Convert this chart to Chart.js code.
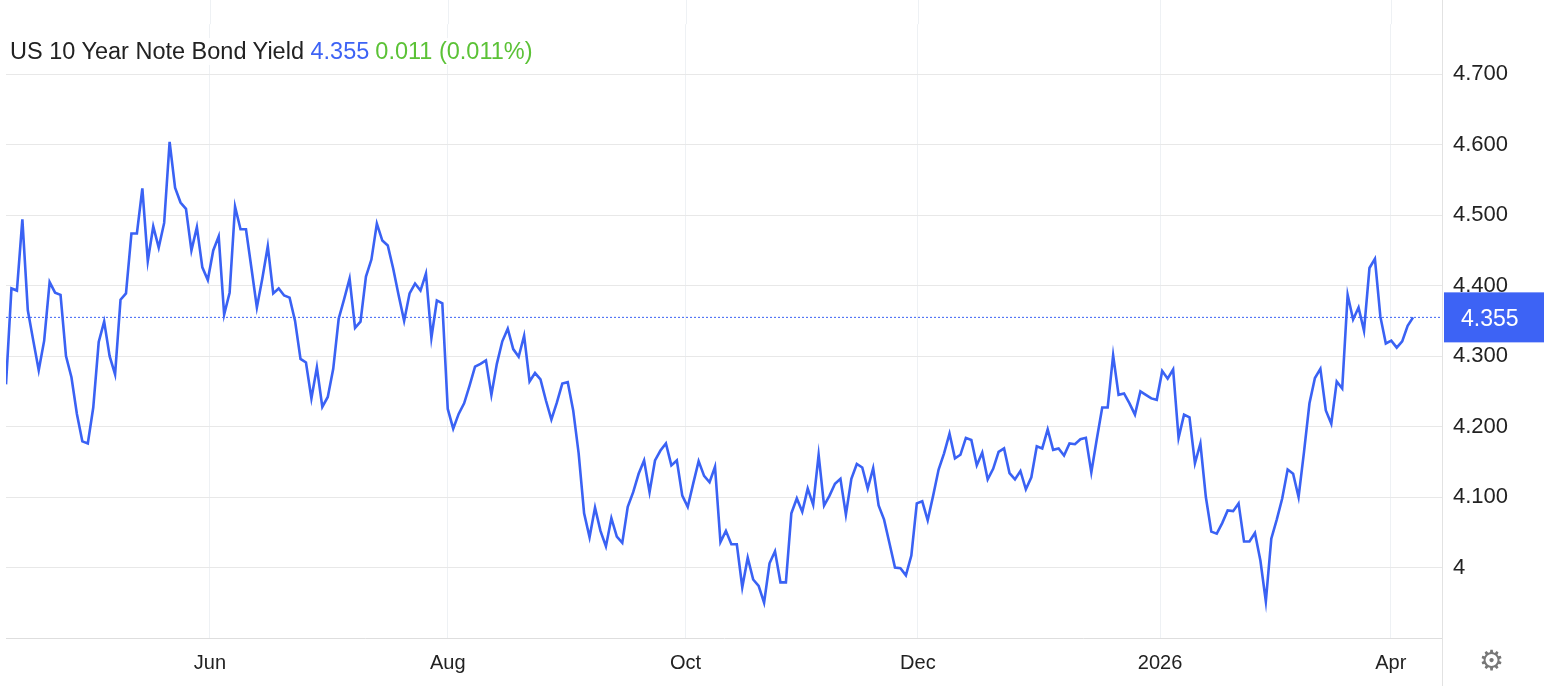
<!DOCTYPE html>
<html lang="en">
<head>
<meta charset="UTF-8" />
<title>US 10 Year Note Bond Yield</title>
<script src="https://cdn.jsdelivr.net/npm/chart.js@4.4.0/dist/chart.umd.min.js"></script>
<style>
  html, body { margin: 0; padding: 0; background: #fff; }
  body { width: 1544px; height: 686px; position: relative; overflow: hidden;
         font-family: Helvetica, Arial, "Liberation Sans", sans-serif; }
  #wrap { position: absolute; left: 0; top: 0; width: 1544px; height: 686px; }
  .title { position: absolute; left: 10px; top: 38px; font-size: 23.5px; color: #222;
           background: rgba(255,255,255,.85); padding-right: 4px; }
  .title .last { color: #3d63f5; }
  .title .chg { color: #5bc236; margin-left: 6px; }
  .gear { position: absolute; left: 1479px; top: 644px; font-size: 28px; color: #777; }
</style>
</head>
<body>
<div id="wrap"><canvas id="chart"></canvas></div>
<div class="title">US 10 Year Note Bond Yield <span class="last">4.355</span><span class="chg">0.011 (0.011%)</span></div>
<div class="gear">⚙</div>

<script>
// daily yields, roughly Apr 10 2025 .. Apr 6 2026
var yields = [
  4.26, 4.396, 4.393, 4.494, 4.365, 4.322, 4.28, 4.322, 4.405, 4.39,
  4.387, 4.30, 4.27, 4.218, 4.179, 4.176, 4.227, 4.32, 4.349, 4.30,
  4.274, 4.38, 4.389, 4.474, 4.474, 4.538, 4.435, 4.484, 4.454, 4.489,
  4.604, 4.539, 4.518, 4.509, 4.45, 4.483, 4.426, 4.408, 4.45, 4.47,
  4.359, 4.39, 4.512, 4.48, 4.48,
  4.425, 4.369, 4.41, 4.456, 4.389, 4.396, 4.386, 4.383, 4.35, 4.296,
  4.291, 4.24, 4.284, 4.228, 4.242, 4.282, 4.353, 4.381, 4.41, 4.34,
  4.349, 4.413, 4.437, 4.488, 4.464, 4.457, 4.424, 4.386, 4.35, 4.389,
  4.403, 4.393, 4.417, 4.326, 4.379, 4.375, 4.225, 4.197, 4.218, 4.233,
  4.258, 4.285, 4.289, 4.294, 4.245,
  4.289, 4.321, 4.339, 4.31, 4.299, 4.329, 4.264, 4.276, 4.267, 4.237,
  4.21, 4.234, 4.261, 4.263, 4.223, 4.162, 4.077, 4.043, 4.085, 4.052,
  4.03, 4.07, 4.044, 4.035, 4.086, 4.107, 4.133, 4.152, 4.107, 4.152,
  4.166, 4.176, 4.145, 4.152, 4.102, 4.086, 4.119, 4.151, 4.13, 4.121,
  4.143, 4.036, 4.052,
  4.033, 4.033, 3.972, 4.014, 3.983, 3.974, 3.95, 4.006, 4.023, 3.979,
  3.979, 4.077, 4.098, 4.079, 4.112, 4.089, 4.16, 4.088, 4.102, 4.119,
  4.126, 4.075, 4.126, 4.147, 4.142, 4.112, 4.141, 4.088, 4.068, 4.034,
  4.0, 3.999, 3.989, 4.017, 4.091, 4.094, 4.067, 4.102, 4.139, 4.162,
  4.19, 4.155, 4.16,
  4.184, 4.181, 4.145, 4.163, 4.125, 4.14, 4.164, 4.169, 4.134, 4.125,
  4.137, 4.111, 4.128, 4.172, 4.169, 4.196, 4.167, 4.169, 4.159, 4.176,
  4.175, 4.182, 4.184, 4.135, 4.182, 4.227, 4.227, 4.301, 4.245, 4.247,
  4.233, 4.217, 4.25, 4.245, 4.24, 4.238, 4.279, 4.268, 4.281, 4.184,
  4.217, 4.213, 4.148, 4.176,
  4.1, 4.051, 4.048, 4.063, 4.081, 4.08, 4.091, 4.037, 4.037, 4.049,
  4.01, 3.952, 4.041, 4.068, 4.098, 4.139, 4.133, 4.1, 4.164, 4.233,
  4.269, 4.282, 4.223, 4.204, 4.264, 4.254, 4.387, 4.352, 4.369, 4.336,
  4.425, 4.438, 4.356, 4.318, 4.322, 4.312, 4.321, 4.343, 4.355
];

var lastValue = 4.355;
var monthLabels = ["Jun", "Aug", "Oct", "Dec", "2026", "Apr"];
var monthStartIdx = [37.4, 81.0, 124.6, 167.2, 211.6, 253.9];
var yTicks = [4.0, 4.1, 4.2, 4.3, 4.4, 4.5, 4.6, 4.7];

var lineColor = "rgb(58, 98, 244)";
var gridColor = "#e8e8e8";
var fontFam = "Helvetica, Arial, 'Liberation Sans', sans-serif";

var points = yields.map(function (v, i) { return { x: i, y: v }; });

// extra drawing: dotted last-value line, value box, right border, grid to top
var lastLinePlugin = {
  id: "lastLine",
  beforeDatasetsDraw: function (chart) {
    var c = chart.ctx, a = chart.chartArea;
    var y = chart.scales.y.getPixelForValue(lastValue);
    c.save();
    // month gridlines continue up to the top edge
    c.strokeStyle = "#eef1f4"; c.lineWidth = 1;
    monthStartIdx.forEach(function (v) {
      var x = Math.round(chart.scales.x.getPixelForValue(v)) + 0.5;
      c.beginPath(); c.moveTo(x, 0); c.lineTo(x, a.top); c.stroke();
    });
    c.strokeStyle = lineColor;
    c.setLineDash([2, 2]);
    c.beginPath(); c.moveTo(a.left, y); c.lineTo(a.right, y); c.stroke();
    c.restore();
  },
  afterDraw: function (chart) {
    var c = chart.ctx, a = chart.chartArea;
    var y = chart.scales.y.getPixelForValue(lastValue);
    c.save();
    c.strokeStyle = "#e2e2e2"; c.lineWidth = 1;
    c.beginPath(); c.moveTo(a.right + 0.5, 0); c.lineTo(a.right + 0.5, 686); c.stroke();
    c.fillStyle = "rgb(61, 99, 245)";
    c.fillRect(a.right + 2, y - 25, 100, 50);
    c.fillStyle = "#fff";
    c.font = "23px " + fontFam;
    c.textBaseline = "middle";
    c.fillText(lastValue.toFixed(3), a.right + 19, y + 2);
    c.restore();
  }
};

new Chart(document.getElementById("chart").getContext("2d"), {
  type: "line",
  data: {
    datasets: [{
      data: points,
      borderColor: lineColor,
      borderWidth: 2.6,
      pointRadius: 0,
      tension: 0,
      fill: false
    }]
  },
  options: {
    responsive: true,
    maintainAspectRatio: false,
    animation: false,
    layout: { padding: { left: 6, top: 0, right: 0, bottom: 0 } },
    plugins: { legend: { display: false }, tooltip: { enabled: false } },
    scales: {
      x: {
        type: "linear",
        min: 0,
        max: 263.3,
        afterBuildTicks: function (s) {
          s.ticks = monthStartIdx.map(function (v) { return { value: v }; });
        },
        afterFit: function (s) { s.height = 48; },
        grid: { color: "#eef1f4", drawTicks: false },
        border: { color: "#dedede" },
        ticks: {
          padding: 13,
          color: "#222",
          font: { size: 20, family: fontFam },
          maxRotation: 0,
          autoSkip: false,
          callback: function (v) {
            var i = monthStartIdx.indexOf(v);
            return i >= 0 ? monthLabels[i] : "";
          }
        }
      },
      y: {
        position: "right",
        min: 3.9,
        max: 4.771,
        afterBuildTicks: function (s) {
          s.ticks = yTicks.map(function (v) { return { value: v }; });
        },
        afterFit: function (s) { s.width = 102; },
        grid: { color: gridColor, drawTicks: false },
        border: { display: false },
        ticks: {
          padding: 11,
          color: "#222",
          font: { size: 22, family: fontFam },
          callback: function (v) {
            return Math.abs(v - 4) < 1e-9 ? "4" : v.toFixed(3);
          }
        }
      }
    }
  },
  plugins: [lastLinePlugin]
});
</script>
</body>
</html>
